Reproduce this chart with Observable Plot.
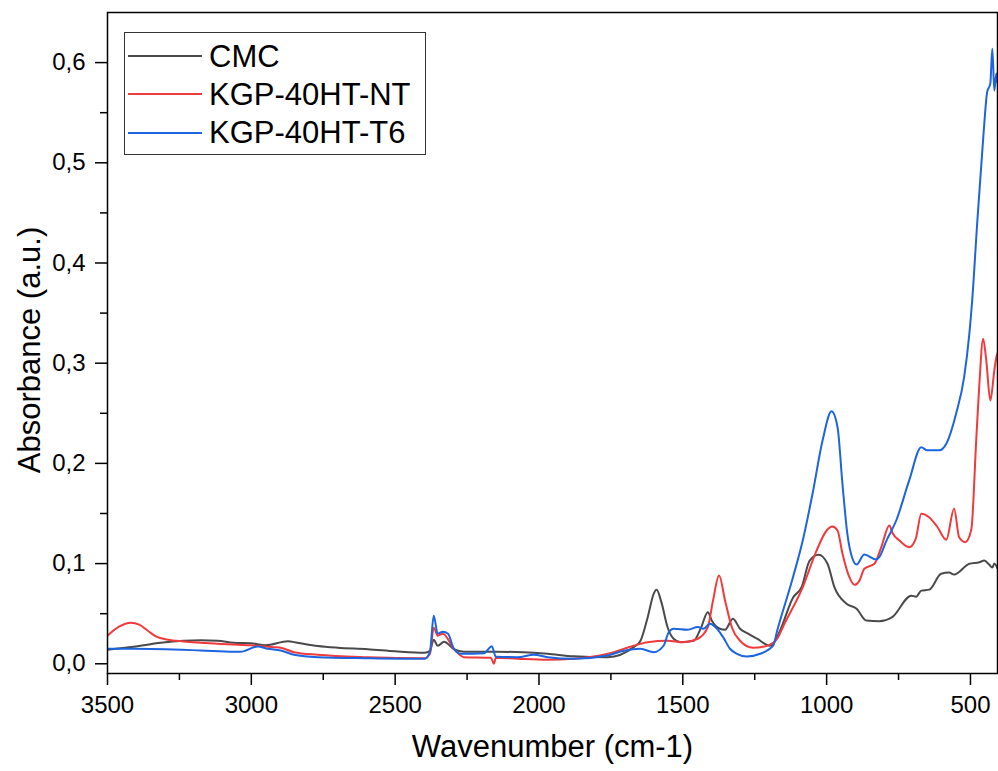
<!DOCTYPE html>
<html>
<head>
<meta charset="utf-8">
<script src="https://cdn.jsdelivr.net/npm/d3@7"></script>
<script src="https://cdn.jsdelivr.net/npm/@observablehq/plot@0.6"></script>
<style>
  html, body { margin: 0; padding: 0; background: #fff; }
  #wrap { position: relative; width: 998px; height: 771px; font-family: "Liberation Sans", Arial, sans-serif; }
  #legend { position: absolute; left: 124px; top: 32px; width: 302px; height: 123px; border: 1px solid #333; background: #fff; box-sizing: border-box; }
  .row { position: absolute; left: 0; height: 38px; display: flex; align-items: center; }
  .sw { width: 74px; height: 0; border-top: 2px solid; margin-left: 3px; }
  .lab { margin-left: 7px; font-size: 31px; color: #000; line-height: 1; white-space: nowrap; }
</style>
</head>
<body>
<div id="wrap"></div>
<script>
// ---- data ----
const seriesNames = ["CMC", "KGP-40HT-NT", "KGP-40HT-T6"];
const seriesColors = ["#4a4a4a", "#f03a3c", "#1c64e0"];

const cmcWave = [3500,3409,3315,3235,3176,3117,3061,3002,2950,2873,2840,2769,2700,2595,2500,2397,2379,2366,2352,2330,2296,2261,2191,2150,2053,1970,1879,1761,1671,1647,1622,1601,1591,1575,1553,1532,1508,1462,1438,1413,1399,1371,1353,1326,1301,1273,1242,1197,1186,1162,1117,1087,1059,1028,997,973,931,896,862,817,772,706,689,671,643,602,574,557,504,469,452,435,424,417,406];
const cmcAbs  = [0.014,0.017,0.021,0.023,0.0235,0.023,0.021,0.0205,0.0185,0.0225,0.021,0.0177,0.016,0.0146,0.0125,0.011,0.013,0.024,0.018,0.022,0.0146,0.012,0.012,0.012,0.0115,0.010,0.0075,0.0066,0.0166,0.023,0.0465,0.07,0.0738,0.062,0.0365,0.025,0.0216,0.023,0.035,0.0515,0.043,0.035,0.034,0.0449,0.035,0.03,0.025,0.018,0.02,0.033,0.066,0.0765,0.103,0.1088,0.0998,0.0765,0.06,0.055,0.0432,0.0425,0.0465,0.068,0.067,0.073,0.074,0.0898,0.091,0.089,0.0998,0.1014,0.103,0.099,0.096,0.1,0.095];

const ntWave = [3500,3460,3419,3390,3360,3330,3290,3235,3117,3002,2922,2898,2852,2769,2595,2397,2379,2366,2352,2334,2296,2261,2167,2157,2150,2074,1970,1879,1761,1671,1622,1553,1497,1448,1413,1395,1374,1353,1329,1301,1256,1207,1172,1150,1083,1035,1000,980,962,945,921,903,886,869,834,810,782,770,747,713,690,671,643,616,584,557,539,518,497,480,469,456,445,431,417,410,406];
const ntAbs  = [0.028,0.037,0.041,0.039,0.033,0.027,0.024,0.0223,0.02,0.0185,0.0166,0.016,0.0116,0.009,0.0066,0.0056,0.01,0.036,0.028,0.03,0.015,0.0066,0.006,0.0,0.006,0.005,0.004,0.005,0.01,0.018,0.0216,0.023,0.0216,0.025,0.0365,0.063,0.088,0.063,0.036,0.023,0.016,0.018,0.025,0.038,0.0765,0.113,0.133,0.137,0.133,0.11,0.0864,0.0788,0.083,0.0948,0.0998,0.1164,0.138,0.13,0.123,0.1164,0.125,0.1497,0.146,0.137,0.1238,0.1547,0.126,0.1214,0.134,0.223,0.2795,0.3244,0.3027,0.2628,0.2927,0.306,0.31];

const t6Wave = [3500,3409,3176,3061,3037,2978,2943,2898,2852,2769,2595,2397,2379,2366,2352,2334,2316,2296,2272,2191,2164,2150,2074,2018,1970,1879,1761,1705,1647,1601,1567,1549,1532,1483,1448,1427,1406,1381,1360,1336,1312,1277,1231,1186,1172,1117,1083,1049,1014,983,962,945,928,910,896,869,827,817,792,758,713,671,650,609,584,550,522,504,494,476,462,452,442,431,424,417,410,406];
const t6Abs  = [0.015,0.015,0.0133,0.012,0.012,0.0173,0.015,0.0133,0.009,0.0066,0.0056,0.005,0.012,0.048,0.03,0.032,0.03,0.015,0.01,0.0105,0.0176,0.007,0.0066,0.009,0.0066,0.005,0.0083,0.013,0.015,0.0116,0.018,0.0315,0.035,0.034,0.0366,0.035,0.04,0.035,0.0266,0.015,0.01,0.0073,0.01,0.018,0.033,0.0864,0.123,0.1697,0.223,0.252,0.236,0.1796,0.1297,0.1048,0.099,0.109,0.104,0.1064,0.123,0.143,0.183,0.216,0.213,0.213,0.2196,0.2495,0.286,0.329,0.3626,0.4424,0.499,0.539,0.5705,0.579,0.6138,0.572,0.589,0.58];

const xTicks = [3500, 3000, 2500, 2000, 1500, 1000, 500];
const xMinor = [3250, 2750, 2250, 1750, 1250, 750];
const yTicks = [0, 0.1, 0.2, 0.3, 0.4, 0.5, 0.6];
const yMinor = [0.05, 0.15, 0.25, 0.35, 0.45, 0.55];
const xTitle = "Wavenumber (cm-1)";
const yTitle = "Absorbance (a.u.)";

// ---- build table ----
const rows = [];
[[cmcWave, cmcAbs], [ntWave, ntAbs], [t6Wave, t6Abs]].forEach(([w, a], i) => {
  w.forEach((x, j) => rows.push({series: seriesNames[i], wave: x, abs: a[j]}));
});

const fmt = d => d.toFixed(1).replace(".", ",");
const font = "Liberation Sans, Arial, sans-serif";

const chart = Plot.plot({
  width: 998,
  height: 771,
  marginLeft: 107,
  marginRight: 1,
  marginTop: 12,
  marginBottom: 98,
  style: {fontFamily: font, background: "#fff", color: "#000"},
  x: {domain: [3500, 406]},
  y: {domain: [-0.0097, 0.65]},
  color: {domain: seriesNames, range: seriesColors},
  marks: [
    Plot.line(rows, {x: "wave", y: "abs", z: "series", stroke: "series", strokeWidth: 2, curve: "monotone-x", clip: true}),
    Plot.frame({stroke: "#000", strokeWidth: 1.5}),
    Plot.axisX({ticks: xTicks, tickSize: 12, tickPadding: 10, tickFormat: d => String(d), fontSize: 24, label: null, strokeWidth: 1.5}),
    Plot.axisX({ticks: xMinor, tickSize: 7, tickFormat: () => "", label: null, strokeWidth: 1.5}),
    Plot.axisY({ticks: yTicks, tickSize: 12, tickPadding: 10, tickFormat: fmt, fontSize: 24, label: null, strokeWidth: 1.5}),
    Plot.axisY({ticks: yMinor, tickSize: 7, tickFormat: () => "", label: null, strokeWidth: 1.5}),
    Plot.text([xTitle], {frameAnchor: "bottom", dy: 74, fontSize: 31, textAnchor: "middle", lineAnchor: "middle", fill: "#000"}),
    Plot.text([yTitle], {frameAnchor: "left", dx: -77, dy: 7, rotate: -90, fontSize: 31, textAnchor: "middle", lineAnchor: "middle", fill: "#000"})
  ]
});

const wrap = document.getElementById("wrap");
wrap.appendChild(chart);

// legend (HTML overlay)
const leg = document.createElement("div");
leg.id = "legend";
seriesNames.forEach((n, i) => {
  const r = document.createElement("div");
  r.className = "row";
  r.style.top = (4 + i * 38.3) + "px";
  const sw = document.createElement("div");
  sw.className = "sw";
  sw.style.borderTopColor = seriesColors[i];
  const lb = document.createElement("span");
  lb.className = "lab";
  lb.textContent = n;
  r.appendChild(sw); r.appendChild(lb);
  leg.appendChild(r);
});
wrap.appendChild(leg);
</script>
</body>
</html>
